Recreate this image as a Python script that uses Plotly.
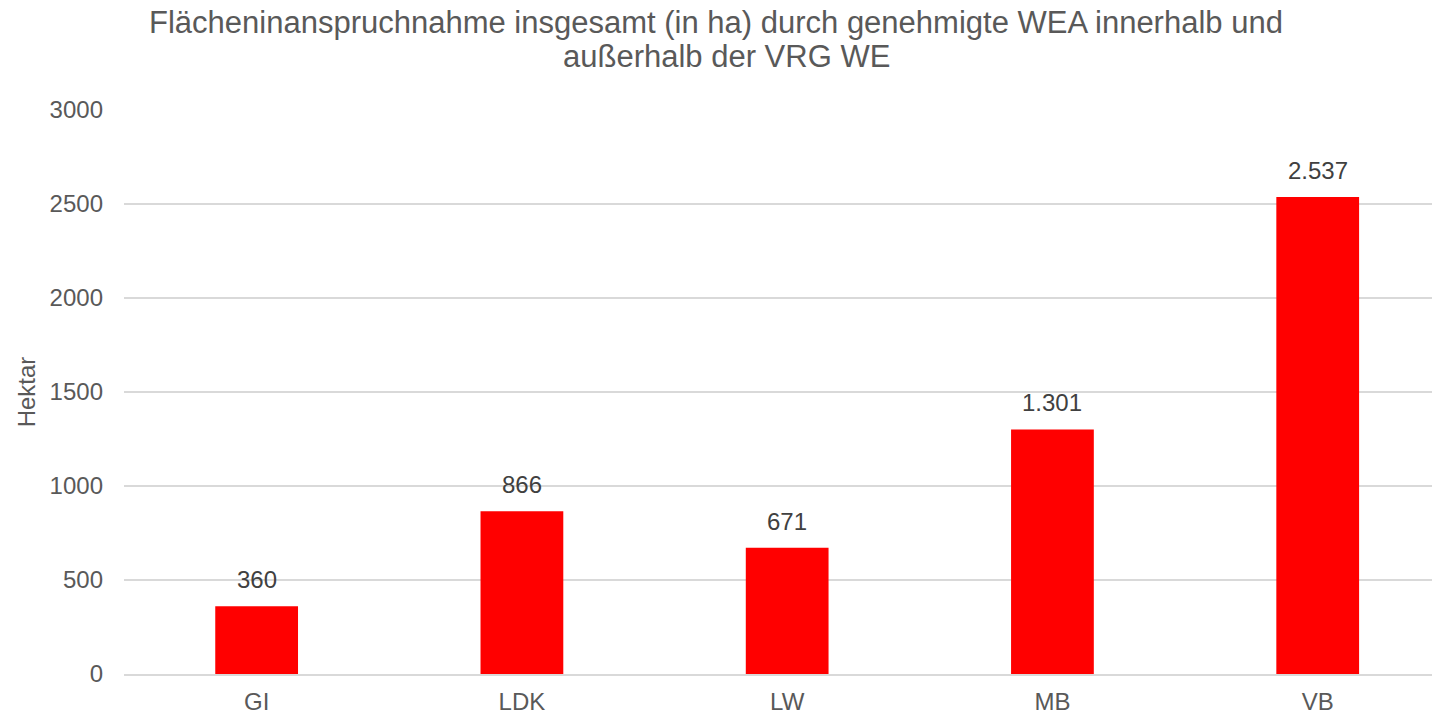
import plotly.graph_objects as go

categories = ["GI", "LDK", "LW", "MB", "VB"]
values = [360, 866, 671, 1301, 2537]
value_labels = ["360", "866", "671", "1.301", "2.537"]
y_ticks = [0, 500, 1000, 1500, 2000, 2500, 3000]
title_lines = [
    "Flächeninanspruchnahme insgesamt (in ha) durch genehmigte WEA innerhalb und",
    "außerhalb der VRG WE",
]

FONT = "Liberation Sans, Arial, sans-serif"

fig = go.Figure()
fig.add_trace(go.Bar(
    x=list(range(len(categories))),
    y=values,
    width=0.312,
    marker=dict(color="#FF0000", line=dict(width=0)),
    hoverinfo="skip",
))

for i, (v, lab) in enumerate(zip(values, value_labels)):
    fig.add_annotation(
        x=i, y=v, xref="x", yref="y", text=lab, showarrow=False,
        yanchor="bottom", yshift=11,
        font=dict(family=FONT, size=24, color="#404040"),
    )

for tx, ty, line in zip([0.4498, 0.4582], [1.1543, 1.0945], title_lines):
    fig.add_annotation(
        x=tx, y=ty, xref="paper", yref="paper",
        xanchor="center", yanchor="middle", showarrow=False,
        text=line,
        font=dict(family=FONT, size=31, color="#595959"),
    )

fig.update_layout(
    width=1432, height=705,
    margin=dict(l=116, r=0, t=102, b=39),
    paper_bgcolor="white", plot_bgcolor="white",
    showlegend=False,
    font=dict(family=FONT, color="#595959"),
)

fig.update_xaxes(
    range=[-0.5, 4.461],
    tickmode="array", tickvals=list(range(len(categories))), ticktext=categories,
    tickfont=dict(family=FONT, size=24, color="#595959"),
    showgrid=False, zeroline=False,
    showline=True, linecolor="#d9d9d9", linewidth=2,
    ticks="", ticklabelstandoff=5, automargin=False,
)

fig.update_yaxes(
    range=[0, 3000],
    tickmode="array", tickvals=y_ticks, ticktext=[str(t) for t in y_ticks],
    tickfont=dict(family=FONT, size=24, color="#595959"),
    showgrid=True, gridcolor="#d9d9d9", gridwidth=2,
    zeroline=False, showline=False, ticks="",
    ticklabelstandoff=20, automargin=False,
    title=dict(text="Hektar", font=dict(family=FONT, size=24, color="#595959"), standoff=7),
)

fig.write_html("out.html")
